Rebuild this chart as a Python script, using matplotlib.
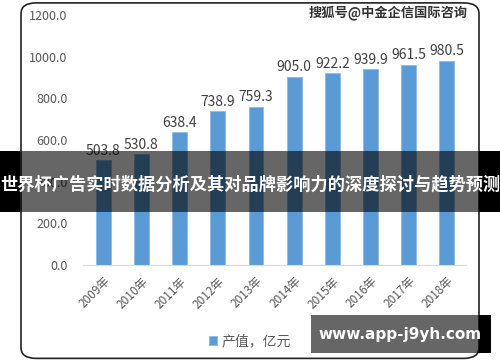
import matplotlib
matplotlib.use("Agg")
import matplotlib.pyplot as plt
from matplotlib.patches import FancyBboxPatch, Rectangle

plt.rcParams['font.family'] = ['Noto Sans CJK SC', 'DejaVu Sans']

# 数据
years = ['2009年', '2010年', '2011年', '2012年', '2013年',
         '2014年', '2015年', '2016年', '2017年', '2018年']
values = [503.8, 530.8, 638.4, 738.9, 759.3, 905.0, 922.2, 939.9, 961.5, 980.5]
series_name = '产值，亿元'
title = '世界杯广告实时数据分析及其对品牌影响力的深度探讨与趋势预测'
watermark = '搜狐号@中金企信国际咨询'
site = 'www.app-j9yh.com'

fig = plt.figure(figsize=(5, 3.62), dpi=100)

# 圆角边框
border = FancyBboxPatch((0.042, 0.01), 0.916, 0.982,
                        boxstyle="round,pad=0,rounding_size=0.03",
                        transform=fig.transFigure, facecolor='white',
                        edgecolor='#222222', linewidth=1.2, zorder=-1)
fig.patches.append(border)

ax = fig.add_axes([0.166, 0.268, 0.766, 0.69])
ax.set_zorder(1)
ax.set_facecolor('none')
x = list(range(len(years)))
bars = ax.bar(x, values, width=0.39, color='#5B9BD5', edgecolor='#8DBBE6',
              linewidth=0.6, label=series_name)
for xi, v in zip(x, values):
    ax.text(xi, v + 12, f'{v:.1f}', ha='center', va='bottom',
            fontsize=10, color='#404040')

ax.set_ylim(0, 1200)
ax.set_xlim(-0.53, 9.5)
ax.set_yticks(range(0, 1201, 200))
ax.set_yticklabels([f'{t:.1f}' for t in range(0, 1201, 200)])
ax.set_xticks(x)
ax.set_xticklabels(years, rotation=45, ha='right', rotation_mode='anchor')
for s in ['top', 'right', 'left']:
    ax.spines[s].set_visible(False)
ax.spines['bottom'].set_color('#D9D9D9')
ax.tick_params(axis='both', length=0, colors='#595959')
ax.tick_params(axis='y', labelsize=9, pad=11)
ax.tick_params(axis='x', labelsize=8.5, pad=7)

fig.legend(handles=[bars], labels=[series_name], loc='center',
           bbox_to_anchor=(0.5, 0.058), frameon=False, fontsize=10,
           handlelength=0.6, handleheight=0.6, handletextpad=0.3,
           labelcolor='#595959')

fig.text(0.936, 0.962, watermark, ha='right', va='center', fontsize=9.5,
         color='#333333', fontweight='bold', zorder=3)

# 标题横幅
fig.patches.append(Rectangle((0, 0.414), 1, 0.169, transform=fig.transFigure,
                             facecolor='black', alpha=0.6, zorder=5))
fig.patches.append(Rectangle((0, 0.414), 0.04, 0.169, transform=fig.transFigure,
                             facecolor='black', zorder=5))
fig.patches.append(Rectangle((0.958, 0.414), 0.042, 0.169, transform=fig.transFigure,
                             facecolor='black', zorder=5))
fig.text(0.5, 0.49, title, ha='center', va='center', fontsize=12.4,
         color='white', fontweight='bold', zorder=6)

# 右下角网址
fig.patches.append(Rectangle((0.622, 0.025), 0.338, 0.105, transform=fig.transFigure,
                             facecolor='black', alpha=0.6, zorder=5))
fig.patches.append(Rectangle((0.958, 0.025), 0.024, 0.105, transform=fig.transFigure,
                             facecolor='black', zorder=5))
fig.text(0.8, 0.077, site, ha='center', va='center', fontsize=11,
         color='white', fontweight='bold', family='DejaVu Sans', zorder=6)

fig.savefig('out.png', dpi=100)
